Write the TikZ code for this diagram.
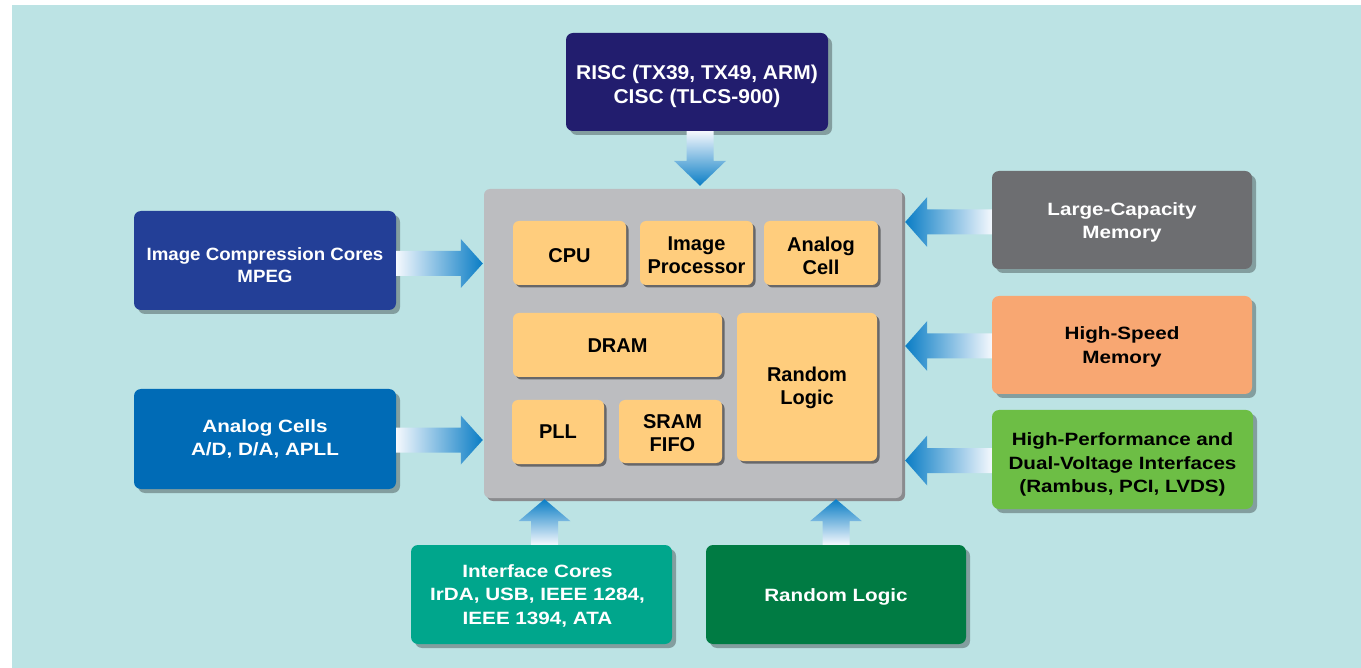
\documentclass[tikz,border=0pt]{standalone}
\usepackage{fontspec}
\setmainfont{Liberation Sans}
\newfontfamily\widesans[FakeStretch=1.16]{Liberation Sans}
\newfontfamily\semiwidesans[FakeStretch=1.05]{Liberation Sans}
\usetikzlibrary{calc,shadows}

\definecolor{bgcyan}{HTML}{BCE3E4}
\definecolor{riscblue}{HTML}{221D6E}
\definecolor{iccblue}{HTML}{233F97}
\definecolor{acsblue}{HTML}{006BB6}
\definecolor{memgray}{HTML}{6D6E71}
\definecolor{memorange}{HTML}{F8A772}
\definecolor{ifgreen}{HTML}{6DBE45}
\definecolor{ifteal}{HTML}{00A68C}
\definecolor{rlgreen}{HTML}{007B43}
\definecolor{chipgray}{HTML}{BCBDC0}
\definecolor{chipedge}{HTML}{8A8B8E}
\definecolor{coreorange}{HTML}{FFCD7D}
\definecolor{arrowblue}{HTML}{0A7DC5}
\definecolor{arrowpale}{HTML}{F4F8FD}

% block arrow from #1 to tip #2: shaft half width #3, head half width #4,
% head length #5, shading options #6
\newcommand{\blockarrow}[6]{%
  \coordinate (ba-h) at ($(#2)!#5!(#1)$);
  \path[#6] ($(#1)!#3!90:(#2)$) -- ($(ba-h)!#3!90:(#2)$) -- ($(ba-h)!#4!90:(#2)$) -- (#2)
    -- ($(ba-h)!#4!-90:(#2)$) -- ($(ba-h)!#3!-90:(#2)$) -- ($(#1)!#3!-90:(#2)$) -- cycle;}

% caption of box #1, style #2, vertical offset #3, text #4
\newcommand{\boxcaption}[4]{%
  \node[#2] (#1-t) at ($(#1.center)+(0,#3)$) {#4};}

\tikzset{
  outerbox/.style={rounded corners=7pt, inner sep=0pt,
    drop shadow={shadow xshift=4pt, shadow yshift=-4pt, opacity=0.3, fill=black}},
  outertext/.style={inner sep=0pt, align=center,
    font=\widesans\fontsize{17.8}{23.5}\selectfont\bfseries},
  corebox/.style={rounded corners=6pt, inner sep=0pt, fill=coreorange,
    drop shadow={shadow xshift=2.5pt, shadow yshift=-2.5pt, opacity=0.45, fill=black}},
  coretext/.style={inner sep=0pt, align=center, text=black,
    font=\fontsize{20}{23}\selectfont\bfseries},
  chipbox/.style={rounded corners=6pt, fill=chipgray, inner sep=0pt,
    drop shadow={shadow xshift=3pt, shadow yshift=-3pt, opacity=1, fill=chipedge}},
  hflowR/.style={left color=arrowpale, right color=arrowblue},
  hflowL/.style={right color=arrowpale, left color=arrowblue},
  vflowD/.style={top color=arrowpale, bottom color=arrowblue},
  vflowU/.style={bottom color=arrowpale, top color=arrowblue},
}

\begin{document}
\begin{tikzpicture}[x=1pt,y=-1pt]
\useasboundingbox (0,0) rectangle (1361,668);
\fill[white] (0,0) rectangle (1361,668);
\fill[bgcyan] (12,5) rectangle (1361,668);

% central chip with its cores
\node[chipbox, minimum width=418pt, minimum height=309pt] (main) at (693,343.5) {};

\node[corebox, minimum width=113pt, minimum height=64pt] (cpu) at (569.5,253) {};
\node[corebox, minimum width=113pt, minimum height=64pt] (imp) at (696.5,253) {};
\node[corebox, minimum width=114pt, minimum height=64pt] (anc) at (821,253) {};
\node[corebox, minimum width=209pt, minimum height=64pt] (dram) at (617.5,345) {};
\node[corebox, minimum width=140pt, minimum height=148pt] (rlg) at (807,387) {};
\node[corebox, minimum width=92pt, minimum height=64pt] (pll) at (558,432) {};
\node[corebox, minimum width=103pt, minimum height=63pt] (sram) at (670.5,431.5) {};

\boxcaption{cpu}{coretext}{2.5}{CPU}
\boxcaption{imp}{coretext}{2}{Image\\Processor}
\boxcaption{anc}{coretext}{2.5}{Analog\\Cell}
\boxcaption{dram}{coretext}{1}{DRAM}
\boxcaption{rlg}{coretext}{1}{Random\\Logic}
\boxcaption{pll}{coretext}{0}{PLL}
\boxcaption{sram}{coretext,xshift=2pt}{2}{SRAM\\FIFO}

% surrounding IP blocks
\node[outerbox, fill=riscblue, minimum width=262pt, minimum height=98pt] (risc) at (697,82) {};
\node[outerbox, fill=iccblue, minimum width=262pt, minimum height=99pt] (icc) at (265,260.5) {};
\node[outerbox, fill=acsblue, minimum width=262pt, minimum height=100pt] (acs) at (265,439) {};
\node[outerbox, fill=memgray, minimum width=260pt, minimum height=98pt] (lcm) at (1122,220) {};
\node[outerbox, fill=memorange, minimum width=260pt, minimum height=98pt] (hsm) at (1122,345) {};
\node[outerbox, fill=ifgreen, minimum width=261pt, minimum height=99pt] (hpi) at (1122.5,459.5) {};
\node[outerbox, fill=ifteal, minimum width=261pt, minimum height=99pt] (ifc) at (541.5,594.5) {};
\node[outerbox, fill=rlgreen, minimum width=260pt, minimum height=99pt] (rlo) at (836,594.5) {};

\boxcaption{risc}{outertext, text=white, font=\semiwidesans\fontsize{20}{24}\selectfont\bfseries}{4}
  {RISC (TX39, TX49, ARM)\\CISC (TLCS-900)}
\boxcaption{icc}{outertext, text=white, font=\semiwidesans\fontsize{17.8}{22}\selectfont\bfseries}{4.5}
  {Image Compression Cores\\MPEG}
\boxcaption{acs}{outertext, text=white}{0}{Analog Cells\\A/D, D/A, APLL}
\boxcaption{lcm}{outertext, text=white}{2.5}{Large-Capacity\\Memory}
\boxcaption{hsm}{outertext, text=black}{2}{High-Speed\\Memory}
\boxcaption{hpi}{outertext, text=black, font=\widesans\fontsize{17.8}{23.5}\selectfont\bfseries}{5}
  {High-Performance and\\Dual-Voltage Interfaces\\(Rambus, PCI, LVDS)}
\boxcaption{ifc}{outertext, text=white, xshift=-4pt}{1}{Interface Cores\\IrDA, USB, IEEE 1284,\\IEEE 1394, ATA}
\boxcaption{rlo}{outertext, text=white}{2.5}{Random Logic}

% flow arrows into the chip
\coordinate (s-risc) at ($(risc.south)+(3,0)$);
\coordinate (t-risc) at ($(s-risc |- main.north)+(0,-3)$);
\blockarrow{s-risc}{t-risc}{13.5pt}{26pt}{25pt}{vflowD}

\coordinate (s-icc) at ($(icc.east)+(0,3)$);
\coordinate (t-icc) at ($(main.west |- s-icc)+(-1,0)$);
\blockarrow{s-icc}{t-icc}{12.5pt}{24.5pt}{22pt}{hflowR}

\coordinate (s-acs) at ($(acs.east)+(0,1)$);
\coordinate (t-acs) at ($(main.west |- s-acs)+(-1,0)$);
\blockarrow{s-acs}{t-acs}{12.5pt}{24.5pt}{22pt}{hflowR}

\coordinate (s-lcm) at ($(lcm.west)+(0,2)$);
\coordinate (t-lcm) at ($(main.east |- s-lcm)+(3,0)$);
\blockarrow{s-lcm}{t-lcm}{12.5pt}{25pt}{22pt}{hflowL}

\coordinate (s-hsm) at ($(hsm.west)+(0,1)$);
\coordinate (t-hsm) at ($(main.east |- s-hsm)+(3,0)$);
\blockarrow{s-hsm}{t-hsm}{12.5pt}{25pt}{22pt}{hflowL}

\coordinate (s-hpi) at ($(hpi.west)+(0,1)$);
\coordinate (t-hpi) at ($(main.east |- s-hpi)+(3,0)$);
\blockarrow{s-hpi}{t-hpi}{12.5pt}{25pt}{22pt}{hflowL}

\coordinate (s-ifc) at ($(ifc.north)+(3,0)$);
\coordinate (t-ifc) at ($(s-ifc |- main.south)+(0,1)$);
\blockarrow{s-ifc}{t-ifc}{13.5pt}{26pt}{22pt}{vflowU}

\coordinate (s-rlo) at (rlo.north);
\coordinate (t-rlo) at ($(s-rlo |- main.south)+(0,1)$);
\blockarrow{s-rlo}{t-rlo}{13.5pt}{26pt}{22pt}{vflowU}
\end{tikzpicture}
\end{document}
